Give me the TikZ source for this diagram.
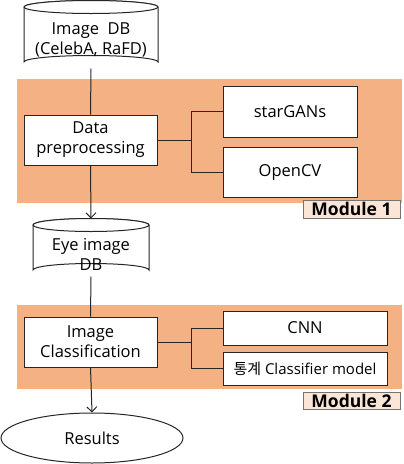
\documentclass[tikz,border=0pt]{standalone}
\usepackage{fontspec}
\setmainfont{Open Sans}
\newfontfamily\kr{Noto Sans CJK KR}
\usetikzlibrary{arrows.meta,shapes.geometric}
\definecolor{band}{HTML}{F4B183}
\definecolor{lab}{HTML}{FBE5D6}
\begin{document}
\begin{tikzpicture}[x=1pt,y=-1pt,
  txt/.style={font=\fontsize{16.5}{20}\selectfont, align=center, inner sep=0pt},
  boxn/.style={draw=black!85, line width=1pt, fill=white},
  bandst/.style={fill=band, draw=none},
  labst/.style={draw=black!55, line width=1pt, fill=lab, font=\bfseries\fontsize{17.5}{20}\selectfont, inner sep=0pt},
  conn/.style={draw=black!85, line width=1pt},
  arr/.style={conn, -{Straight Barb[length=5pt,width=10pt]}}]
\useasboundingbox (0,0) rectangle (404,464);
% bands
\fill[bandst] (17,79) rectangle (402,203);
\fill[bandst] (17,305) rectangle (402,389);
\node[labst, minimum width=97pt, minimum height=18pt] (m1) at (351.5,209) {Module 1};
\node[labst, minimum width=97pt, minimum height=17pt] (m2) at (351.5,400.5) {Module 2};
% cylinder 1
\draw[boxn] (24,7) -- (24,62) arc[start angle=180,end angle=360,x radius=67,y radius=6.5] -- (158,7)
  arc[start angle=0,end angle=-180,x radius=67,y radius=6.5];
\draw[boxn] (91,7) ellipse[x radius=67,y radius=6.5];
\node[txt] (db) at (91,40) {Image\ \ DB\\(CelebA, RaFD)};
\coordinate (dbb) at (91,68.5);
% cylinder 2
\draw[boxn] (33,225) -- (33,270) arc[start angle=180,end angle=360,x radius=58,y radius=6.5] -- (149,225)
  arc[start angle=0,end angle=-180,x radius=58,y radius=6.5];
\draw[boxn] (91,225) ellipse[x radius=58,y radius=6.5];
\node[txt] (eye) at (91,254) {Eye image\\DB};
\coordinate (eyet) at (91,218.5);
\coordinate (eyeb) at (91,276.5);
% boxes
\node[boxn, txt, minimum width=133pt, minimum height=50pt] (dp) at (90.5,140) {Data\\preprocessing};
\node[boxn, txt, minimum width=134pt, minimum height=51pt] (sg) at (290,111.5) {starGANs};
\node[boxn, txt, minimum width=134pt, minimum height=50pt] (cv) at (290,172) {OpenCV};
\node[boxn, txt, minimum width=133pt, minimum height=50pt] (ic) at (90.5,342) {Image\\Classification};
\node[boxn, txt, minimum width=164pt, minimum height=34pt] (cnn) at (305,328) {CNN};
\node[boxn, txt, minimum width=164pt, minimum height=33pt, font=\fontsize{15}{18}\selectfont] (st) at (305,368.5) {{\kr 통계} Classifier model};
\node[boxn, ellipse, txt, minimum width=182pt, minimum height=50pt] (res) at (92,438) {Results};
% connectors
\draw[conn] (dbb) -- (dp.north);
\draw[arr] (dp.south) -- (eyet);
\draw[conn] (eyeb) -- (ic.north);
\draw[arr] (ic.south) -- (res.north);
\draw[conn] (dp.east) -- (191,140) |- (sg.west);
\draw[conn] (191,140) |- (cv.west);
\draw[conn] (ic.east) -- (191,342) |- (cnn.west);
\draw[conn] (191,342) |- (st.west);
\end{tikzpicture}
\end{document}
